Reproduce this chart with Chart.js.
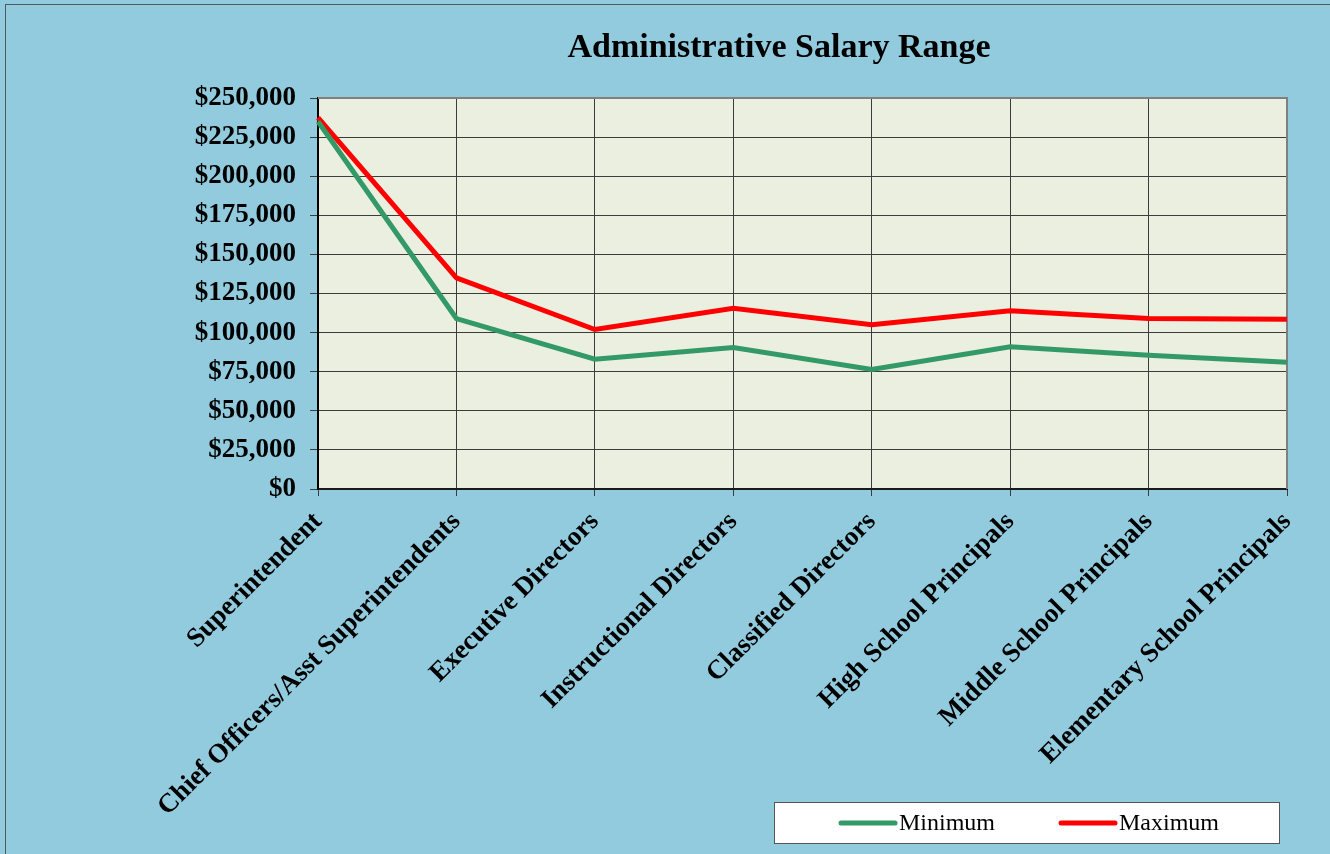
<!DOCTYPE html>
<html>
<head>
<meta charset="utf-8">
<title>Administrative Salary Range</title>
<script src="https://cdn.jsdelivr.net/npm/chart.js@4.4.1/dist/chart.umd.min.js"></script>
<style>
    html, body { margin: 0; padding: 0; background: #92cbdd; }
    canvas { display: block; }
</style>
</head>
<body>
<canvas id="salary-chart" width="1330" height="854"></canvas>
<script>
const chartTitle = "Administrative Salary Range";
const categories = [
    "Superintendent",
    "Chief Officers/Asst Superintendents",
    "Executive Directors",
    "Instructional Directors",
    "Classified Directors",
    "High School Principals",
    "Middle School Principals",
    "Elementary School Principals",
];
const minimumSalary = [235000, 109000, 83000, 90500, 76500, 91000, 85500, 81000];
const maximumSalary = [237500, 135000, 102000, 115500, 105000, 114000, 109000, 108500];
const yMin = 0;
const yMax = 250000;
const yStep = 25000;

const serif = "'Liberation Serif', 'Times New Roman', serif";

// backgrounds, frame, title and the boxed legend
const chartDecor = {
    id: "chartDecor",
    beforeDraw(chart) {
        const ctx = chart.ctx;
        const area = chart.chartArea;
        ctx.save();
        ctx.fillStyle = "#92cbdd";
        ctx.fillRect(0, 0, chart.width, chart.height);
        ctx.strokeStyle = "#4a5a60";
        ctx.lineWidth = 1;
        ctx.strokeRect(5.5, 4.5, chart.width + 10, chart.height + 10);
        ctx.fillStyle = "#ebefdf";
        ctx.fillRect(area.left, area.top, area.right - area.left, area.bottom - area.top);
        ctx.restore();
    },
    beforeDatasetsDraw(chart) {
        const ctx = chart.ctx;
        const area = chart.chartArea;
        ctx.save();
        ctx.strokeStyle = "#808080";
        ctx.lineWidth = 2;
        ctx.beginPath();
        ctx.moveTo(area.left, area.top);
        ctx.lineTo(area.right, area.top);
        ctx.lineTo(area.right, area.bottom);
        ctx.stroke();
        ctx.restore();
    },
    afterDraw(chart) {
        const ctx = chart.ctx;
        ctx.save();

        ctx.fillStyle = "#000";
        ctx.font = "bold 34px " + serif;
        ctx.textAlign = "center";
        ctx.textBaseline = "middle";
        ctx.fillText(chartTitle, 779, 48);

        // legend
        ctx.fillStyle = "#ffffff";
        ctx.fillRect(774.5, 802.5, 505, 41);
        ctx.strokeStyle = "#555";
        ctx.lineWidth = 1;
        ctx.strokeRect(774.5, 802.5, 505, 41);

        const starts = [841, 1061];
        chart.data.datasets.forEach(function (ds, i) {
            const x = starts[i];
            ctx.strokeStyle = ds.borderColor;
            ctx.lineWidth = 5;
            ctx.lineCap = "round";
            ctx.beginPath();
            ctx.moveTo(x, 823);
            ctx.lineTo(x + 54, 823);
            ctx.stroke();

            ctx.fillStyle = "#000";
            ctx.font = "24px " + serif;
            ctx.textAlign = "left";
            ctx.textBaseline = "middle";
            ctx.fillText(ds.label, x + 58, 824);
        });
        ctx.restore();
    },
};

const ctx = document.getElementById("salary-chart").getContext("2d");

new Chart(ctx, {
    type: "line",
    data: {
        labels: categories,
        datasets: [
            {
                label: "Minimum",
                data: minimumSalary,
                borderColor: "#339966",
                backgroundColor: "#339966",
                borderWidth: 5,
                pointRadius: 0,
                tension: 0,
                fill: false,
                clip: false,
            },
            {
                label: "Maximum",
                data: maximumSalary,
                borderColor: "#ff0000",
                backgroundColor: "#ff0000",
                borderWidth: 5,
                pointRadius: 0,
                tension: 0,
                fill: false,
                clip: false,
            },
        ],
    },
    options: {
        responsive: false,
        animation: false,
        layout: {
            padding: { left: 0, top: 98, right: 43, bottom: 0 },
        },
        plugins: {
            legend: { display: false },
            title: { display: false },
            tooltip: { enabled: false },
        },
        scales: {
            x: {
                offset: false,
                afterFit: function (scale) {
                    scale.height = 365;
                },
                grid: {
                    color: "#3c3c3c",
                    lineWidth: 1,
                    tickLength: 7,
                },
                border: { color: "#1a1a1a", width: 2 },
                ticks: {
                    autoSkip: false,
                    minRotation: 45,
                    maxRotation: 45,
                    padding: 10,
                    color: "#000",
                    font: { family: serif, size: 27, weight: "bold" },
                },
            },
            y: {
                min: yMin,
                max: yMax,
                afterFit: function (scale) {
                    scale.width = 318;
                },
                grid: {
                    color: "#3c3c3c",
                    lineWidth: 1,
                    tickLength: 8,
                },
                border: { color: "#000", width: 2 },
                ticks: {
                    stepSize: yStep,
                    padding: 14,
                    color: "#000",
                    font: { family: serif, size: 27, weight: "bold" },
                    callback: function (value) {
                        return "$" + value.toLocaleString("en-US");
                    },
                },
            },
        },
    },
    plugins: [chartDecor],
});
</script>
</body>
</html>
